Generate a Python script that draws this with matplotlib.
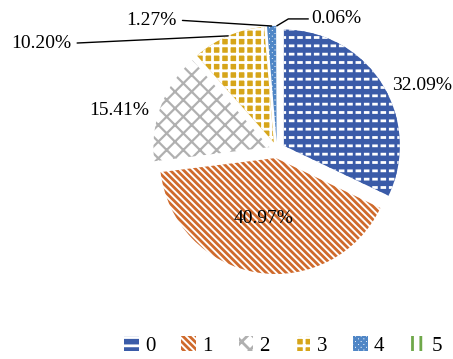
import matplotlib
matplotlib.use('Agg')
import matplotlib.pyplot as plt
import numpy as np

# data
categories = ['0', '1', '2', '3', '4', '5']
shares = [32.09, 40.97, 15.41, 10.20, 1.27, 0.06]
pct_labels = ['32.09%', '40.97%', '15.41%', '10.20%', '1.27%', '0.06%']

# slice styles: face, hatch colour, hatch
faces = ['#3A5BA8', 'white', 'white', '#D6A51A', 'white', 'white']
hatch_cols = ['white', '#CF6A2C', '#B0B0B0', 'white', '#4F86C6', '#6FA84A']
hatches = ['--', '\\\\\\\\\\', 'xx', '++', 'xxxxxx', '||']

# label positions (data units, pie radius = 1) and whether they get a leader line
label_pos = [(1.25, 0.56), (-0.12, -0.59), (-1.36, 0.34),
             (-2.03, 0.92), (-1.08, 1.12), (0.51, 1.13)]
leader = [False, False, False, True, True, True]

plt.rcParams['font.family'] = ['Liberation Serif', 'DejaVu Serif']
plt.rcParams['hatch.linewidth'] = 2.0

fig = plt.figure(figsize=(4.53, 3.59), dpi=100)
ax = fig.add_axes([0, 0, 1, 1])

explode = [0.07] * len(shares)
wedges, _ = ax.pie(shares, startangle=90, counterclock=False, explode=explode,
                   radius=1.0, wedgeprops=dict(linewidth=0))
for i, (w, fc, hc, h) in enumerate(zip(wedges, faces, hatch_cols, hatches)):
    w.set_facecolor(fc)
    w.set_edgecolor(hc)
    w.set_hatch(h)
    w.set_linewidth(0)
    if i == 2 and hasattr(w, 'set_hatch_linewidth'):
        w.set_hatch_linewidth(1.6)

# second layer on slice 0 to break the white lines into dashes
over, _ = ax.pie(shares, startangle=90, counterclock=False, explode=explode,
                 radius=1.0, wedgeprops=dict(linewidth=0, facecolor='none'))
for i, w in enumerate(over):
    if i == 0:
        w.set_edgecolor('#3A5BA8')
        w.set_hatch('||')
    else:
        w.set_visible(False)

for i, (w, txt, pos) in enumerate(zip(wedges, pct_labels, label_pos)):
    if not leader[i]:
        ax.text(pos[0], pos[1], txt, ha='center', va='center', fontsize=14)
        continue
    mid = np.deg2rad((w.theta1 + w.theta2) / 2)
    cx, cy = w.center
    tip = (cx + np.cos(mid), cy + np.sin(mid))
    if i == 5:
        ax.annotate(txt, xy=tip, xytext=pos, ha='center', va='center', fontsize=14,
                    arrowprops=dict(arrowstyle='-', color='black', lw=1,
                                    relpos=(0, 0.5), shrinkA=0, shrinkB=0,
                                    connectionstyle='angle,angleA=0,angleB=31,rad=0'))
    else:
        ax.annotate(txt, xy=tip, xytext=pos, ha='center', va='center', fontsize=14,
                    arrowprops=dict(arrowstyle='-', color='black', lw=1,
                                    relpos=(1, 0.5), shrinkA=2, shrinkB=0))

ax.set_xlim(-277 / 116, 176 / 116)
ax.set_ylim(-209 / 116, 150 / 116)
ax.axis('off')

ax.legend(wedges, categories, loc='center', bbox_to_anchor=(283 / 453, 1 - 346 / 359),
          ncol=6, frameon=False, fontsize=15, handlelength=0.7, handleheight=0.7,
          handletextpad=0.3, columnspacing=1.25, borderaxespad=0)

fig.savefig('out.png', dpi=100)
